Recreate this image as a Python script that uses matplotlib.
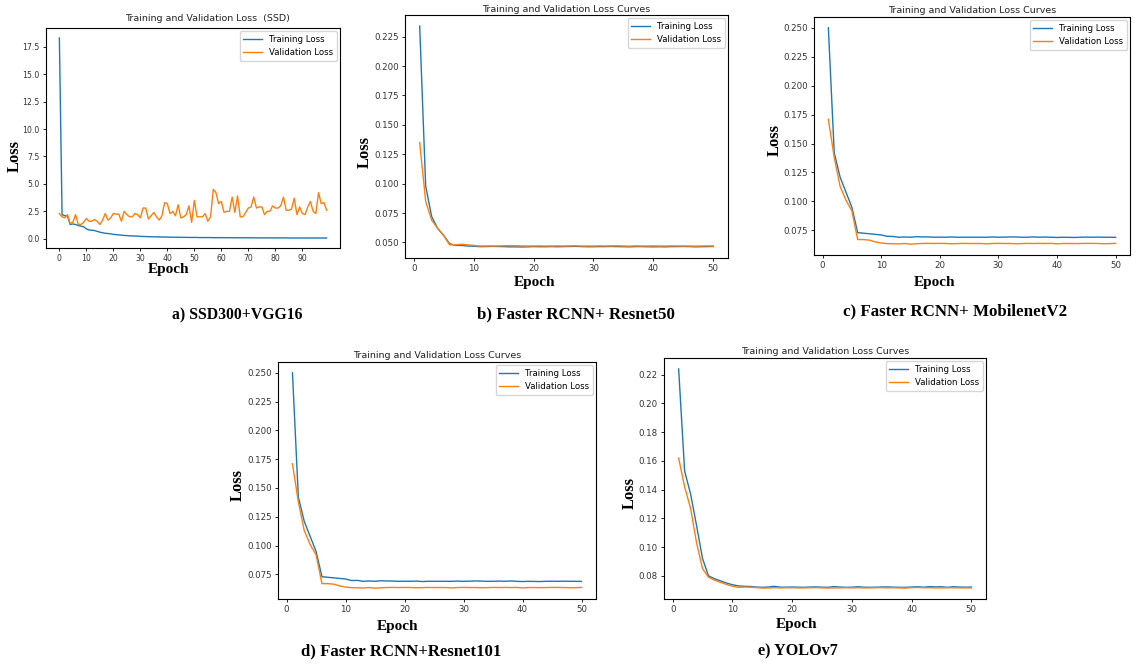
import numpy as np
import matplotlib
matplotlib.use("Agg")
from matplotlib import pyplot as plt

# a) SSD300+VGG16, epochs 0..99
ssd_train = [18.3, 2.2, 2.1, 2.1, 1.3, 1.35, 1.3, 1.2, 1.15, 1.1,
             0.9, 0.8, 0.78, 0.75, 0.68, 0.6, 0.55, 0.5, 0.48, 0.45,
             0.4, 0.38, 0.35, 0.33, 0.3, 0.29, 0.27, 0.26, 0.25, 0.24,
             0.22, 0.21, 0.2, 0.19, 0.19, 0.18, 0.17, 0.17, 0.16, 0.16,
             0.15, 0.15, 0.14, 0.14, 0.14, 0.13, 0.13, 0.13, 0.12, 0.12,
             0.12, 0.12, 0.11, 0.11, 0.11, 0.11, 0.11, 0.1, 0.1, 0.1,
             0.1, 0.1, 0.1, 0.1, 0.09, 0.09, 0.09, 0.09, 0.09, 0.09,
             0.09, 0.09, 0.09, 0.08, 0.08, 0.08, 0.08, 0.08, 0.08, 0.08,
             0.08, 0.08, 0.08, 0.08, 0.08, 0.07, 0.07, 0.07, 0.07, 0.07,
             0.07, 0.07, 0.07, 0.07, 0.07, 0.07, 0.07, 0.07, 0.07, 0.07]
ssd_val = [2.3, 2.0, 1.9, 2.2, 1.4, 1.5, 2.2, 1.3, 1.3, 1.5,
           1.85, 1.6, 1.6, 1.75, 1.6, 1.3, 1.7, 2.3, 1.7, 1.9,
           2.3, 2.25, 2.25, 1.6, 2.5, 2.2, 2.0, 2.0, 2.3, 2.2,
           1.9, 2.8, 2.8, 1.8, 2.1, 2.4, 2.0, 1.7, 2.1, 3.3,
           3.2, 2.3, 2.5, 2.1, 3.1, 1.9, 2.0, 2.2, 3.0, 1.5,
           3.5, 2.0, 2.0, 2.0, 2.3, 1.6, 2.0, 4.5, 4.2, 3.2,
           3.4, 2.4, 2.5, 2.5, 3.8, 2.4, 3.9, 2.0, 2.0, 2.4,
           2.8, 2.9, 3.8, 2.8, 2.9, 2.9, 2.2, 2.5, 2.5, 3.0,
           2.8, 2.8, 3.0, 3.8, 2.6, 2.6, 2.7, 3.7, 2.2, 2.9,
           2.3, 2.2, 2.9, 3.4, 2.5, 2.3, 4.2, 3.2, 3.3, 2.6]

# b) Faster RCNN + Resnet50, epochs 1..50
r50_train = [0.234, 0.098, 0.072, 0.062, 0.056, 0.049, 0.0475, 0.0475, 0.047, 0.0468,
             0.0465, 0.0465, 0.0467, 0.0466, 0.0465, 0.0463, 0.0463, 0.0462, 0.0463, 0.0465,
             0.0464, 0.0464, 0.0465, 0.0464, 0.0465, 0.0466, 0.0467, 0.0465, 0.0464, 0.0464,
             0.0465, 0.0465, 0.0466, 0.0465, 0.0464, 0.0463, 0.0465, 0.0465, 0.0464, 0.0463,
             0.0464, 0.0463, 0.0465, 0.0465, 0.0466, 0.0465, 0.0463, 0.0464, 0.0465, 0.0466]
r50_val = [0.135, 0.085, 0.069, 0.062, 0.056, 0.048, 0.048, 0.0485, 0.048, 0.0475,
           0.047, 0.047, 0.047, 0.047, 0.0472, 0.0473, 0.0472, 0.0471, 0.047, 0.047,
           0.0471, 0.047, 0.047, 0.0471, 0.047, 0.0471, 0.0472, 0.047, 0.047, 0.047,
           0.0471, 0.047, 0.0471, 0.0472, 0.047, 0.0469, 0.0471, 0.047, 0.047, 0.0471,
           0.047, 0.047, 0.0471, 0.047, 0.047, 0.047, 0.0469, 0.047, 0.0471, 0.047]

# c) Faster RCNN + MobilenetV2
mnv2_train = [0.250, 0.142, 0.121, 0.108, 0.095, 0.073, 0.0725, 0.072, 0.0715, 0.071,
              0.0698, 0.0697, 0.069, 0.0692, 0.069, 0.0695, 0.0693, 0.0693, 0.069, 0.0691,
              0.069, 0.0692, 0.069, 0.069, 0.069, 0.069, 0.069, 0.069, 0.0692, 0.069,
              0.0691, 0.0693, 0.0692, 0.069, 0.069, 0.0693, 0.069, 0.0692, 0.069, 0.0688,
              0.069, 0.0689, 0.0688, 0.069, 0.0691, 0.069, 0.0691, 0.069, 0.069, 0.0689]
mnv2_val = [0.171, 0.138, 0.113, 0.101, 0.092, 0.067, 0.067, 0.0665, 0.065, 0.064,
            0.0635, 0.0634, 0.0632, 0.0636, 0.063, 0.0634, 0.0636, 0.0637, 0.0636, 0.0637,
            0.0636, 0.0634, 0.0635, 0.0637, 0.0636, 0.0636, 0.0636, 0.0633, 0.0636, 0.0637,
            0.0636, 0.0636, 0.0634, 0.0635, 0.0637, 0.0636, 0.0637, 0.0636, 0.0637, 0.0633,
            0.0636, 0.0636, 0.0635, 0.0636, 0.0637, 0.0637, 0.0636, 0.0634, 0.0635, 0.0637]

# d) Faster RCNN + Resnet101
r101_train = [0.250, 0.142, 0.121, 0.108, 0.095, 0.073, 0.0725, 0.072, 0.0715, 0.071,
              0.0697, 0.0698, 0.069, 0.0693, 0.069, 0.0695, 0.0693, 0.0692, 0.069, 0.0691,
              0.069, 0.0692, 0.0688, 0.069, 0.069, 0.069, 0.069, 0.069, 0.0692, 0.069,
              0.0691, 0.0693, 0.0692, 0.069, 0.069, 0.0692, 0.069, 0.0693, 0.069, 0.0688,
              0.069, 0.0689, 0.0688, 0.069, 0.0691, 0.069, 0.0691, 0.069, 0.069, 0.0689]
r101_val = [0.171, 0.138, 0.113, 0.101, 0.092, 0.067, 0.067, 0.0665, 0.065, 0.064,
            0.0635, 0.0634, 0.0632, 0.0636, 0.063, 0.0634, 0.0636, 0.0637, 0.0636, 0.0637,
            0.0636, 0.0634, 0.0635, 0.0637, 0.0636, 0.0636, 0.0636, 0.0633, 0.0636, 0.0637,
            0.0636, 0.0636, 0.0634, 0.0635, 0.0637, 0.0636, 0.0637, 0.0636, 0.0637, 0.0633,
            0.0636, 0.0636, 0.0635, 0.0636, 0.0637, 0.0637, 0.0636, 0.0634, 0.0635, 0.0637]

# e) YOLOv7
yolo_train = [0.224, 0.153, 0.137, 0.115, 0.092, 0.080, 0.078, 0.0765, 0.075, 0.0738,
              0.073, 0.0727, 0.0726, 0.0722, 0.072, 0.0722, 0.0727, 0.0721, 0.0721, 0.0722,
              0.0721, 0.072, 0.0722, 0.0723, 0.0721, 0.072, 0.0725, 0.0722, 0.072, 0.0721,
              0.0724, 0.0721, 0.072, 0.0721, 0.0722, 0.0723, 0.0721, 0.072, 0.072, 0.0722,
              0.0724, 0.0721, 0.0725, 0.0723, 0.0724, 0.072, 0.0724, 0.0722, 0.0721, 0.0722]
yolo_val = [0.162, 0.142, 0.127, 0.103, 0.085, 0.079, 0.077, 0.0755, 0.074, 0.0728,
            0.072, 0.0722, 0.0721, 0.0718, 0.0715, 0.0715, 0.0718, 0.0716, 0.0717, 0.0717,
            0.0716, 0.0716, 0.0717, 0.0718, 0.0716, 0.0715, 0.0716, 0.0716, 0.0717, 0.0716,
            0.0717, 0.0716, 0.0716, 0.0717, 0.0718, 0.0716, 0.0717, 0.0716, 0.0715, 0.0718,
            0.0719, 0.0717, 0.0717, 0.0716, 0.0716, 0.0717, 0.0717, 0.0716, 0.0716, 0.0716]

captions = ["a) SSD300+VGG16", "b) Faster RCNN+ Resnet50", "c) Faster RCNN+ MobilenetV2",
            "d) Faster RCNN+Resnet101", "e) YOLOv7"]
titles = ["Training and Validation Loss  (SSD)"] + ["Training and Validation Loss Curves"] * 4

W, H = 1136, 665
fig = plt.figure(figsize=(W / 100, H / 100), dpi=100)


def px_axes(left, top, right, bottom):
    return fig.add_axes([left / W, 1 - bottom / H, (right - left) / W, (bottom - top) / H])


# panel boxes in pixels, caption centres, label coords, title pad
panels = [
    dict(box=(46, 28, 340, 248), train=ssd_train, val=ssd_val, start=0,
         cap=(237, 315), cfs=11.3, loss=(-0.078, 0.418), epoch=(0.418, -0.068),
         tx=0.551, pad=5, fs=5.6),
    dict(box=(405, 15, 728, 258), train=r50_train, val=r50_val, start=1,
         cap=(576, 314), cfs=12.2, loss=(-0.099, 0.436), epoch=(0.40, -0.074),
         tx=0.5, pad=2, fs=6.2),
    dict(box=(814, 17, 1130, 255), train=mnv2_train, val=mnv2_val, start=1,
         cap=(955, 311), cfs=12.2, loss=(-0.098, 0.483), epoch=(0.383, -0.088),
         tx=0.5, pad=3, fs=6.2),
    dict(box=(278, 362, 596, 599), train=r101_train, val=r101_val, start=1,
         cap=(401, 651), cfs=12.1, loss=(-0.101, 0.48), epoch=(0.377, -0.089),
         tx=0.5, pad=3, fs=6.2),
    dict(box=(664, 358, 986, 599), train=yolo_train, val=yolo_val, start=1,
         cap=(798, 651), cfs=11.7, loss=(-0.081, 0.44), epoch=(0.413, -0.079),
         tx=0.5, pad=3, fs=6.2),
]

serif = "Liberation Serif"

for i, p in enumerate(panels):
    ax = px_axes(*p["box"])
    epochs = np.arange(p["start"], p["start"] + len(p["train"]))
    ax.plot(epochs, p["train"], color="#1f77b4", lw=1.0, label="Training Loss")
    ax.plot(epochs, p["val"], color="#ff7f0e", lw=1.0, label="Validation Loss")
    if i == 0:
        ax.set_xticks(range(0, 100, 10))
    ax.tick_params(labelsize=p["fs"], length=2.5, width=0.6, pad=2, labelcolor="#333333")
    for s in ax.spines.values():
        s.set_linewidth(0.8)
    ax.set_title(titles[i], fontsize=6.8, x=p["tx"], pad=p["pad"], color="#222222")
    ax.legend(loc="upper right", fontsize=6.2, handlelength=2.2, borderaxespad=0.4)
    ax.set_ylabel("Loss", family=serif, fontweight="bold", fontsize=12)
    ax.yaxis.set_label_coords(*p["loss"])
    ax.set_xlabel("Epoch", family=serif, fontweight="bold", fontsize=11)
    ax.xaxis.set_label_coords(*p["epoch"])
    fig.text(p["cap"][0] / W, 1 - p["cap"][1] / H, captions[i], family=serif,
             fontweight="bold", fontsize=p["cfs"], ha="center", va="center")

fig.savefig("out.png", dpi=100)
